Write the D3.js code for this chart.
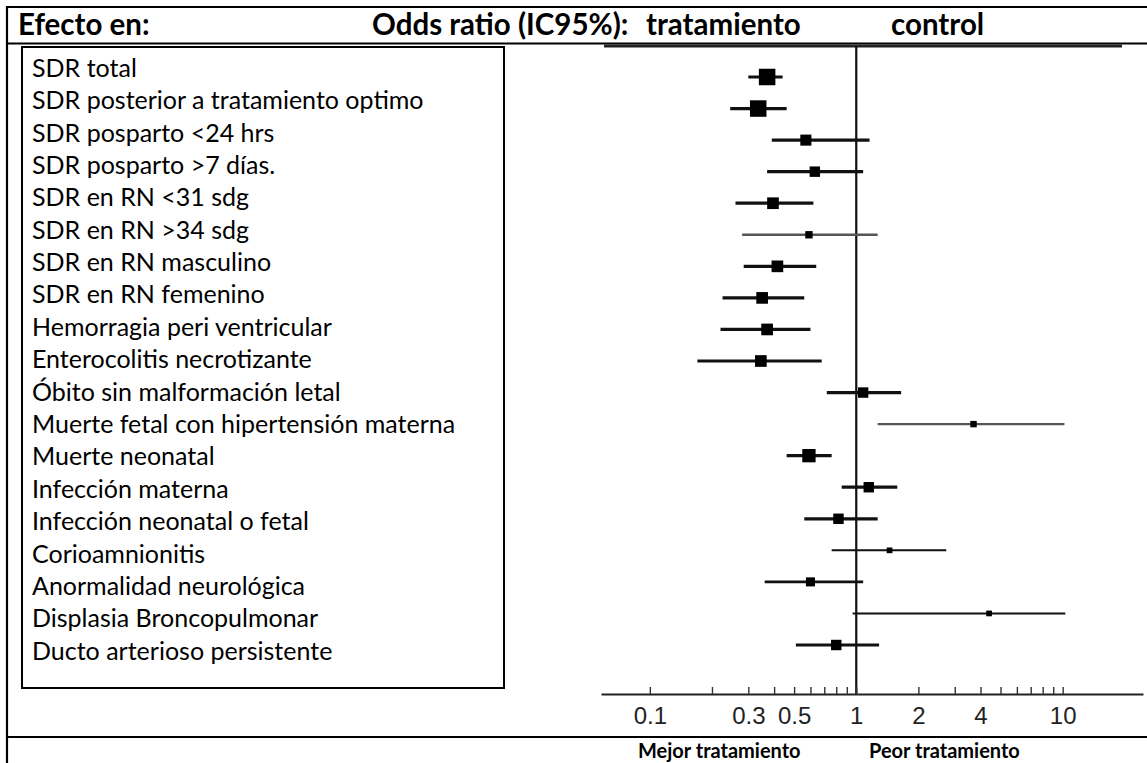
<!DOCTYPE html>
<html lang="es">
<head>
<meta charset="utf-8">
<title>Odds ratio (IC95%)</title>
<script src="https://cdn.jsdelivr.net/npm/d3@7"></script>
<style>
  html, body { margin: 0; padding: 0; background: #fff; }
  svg { display: block; }
  .lbl { font-family: Lato, "Open Sans", sans-serif; font-size: 25px; fill: #000; }
  .hdr { font-family: Lato, "Open Sans", sans-serif; font-weight: 700; font-size: 29.5px; fill: #000; }
  .foot { font-family: Lato, "Open Sans", sans-serif; font-weight: 700; font-size: 20px; fill: #000; }
  .axis text { font-family: "Liberation Sans", Arial, sans-serif; font-size: 24px; fill: #222; }
</style>
</head>
<body>
<svg id="chart" width="1147" height="763"></svg>
<script>
// datos (escala log del odds ratio)
const efectos = [
  'SDR total',
  'SDR posterior a tratamiento optimo',
  'SDR posparto <24 hrs',
  'SDR posparto >7 días.',
  'SDR en RN <31 sdg',
  'SDR en RN >34 sdg',
  'SDR en RN masculino',
  'SDR en RN femenino',
  'Hemorragia peri ventricular',
  'Enterocolitis necrotizante',
  'Óbito sin malformación letal',
  'Muerte fetal con hipertensión materna',
  'Muerte neonatal',
  'Infección materna',
  'Infección neonatal o fetal',
  'Corioamnionitis',
  'Anormalidad neurológica',
  'Displasia Broncopulmonar',
  'Ducto arterioso persistente',
];
const oddsRatio = [0.37, 0.335, 0.57, 0.63, 0.395, 0.59, 0.415, 0.35, 0.37, 0.345, 1.08, 3.7, 0.59, 1.15, 0.82, 1.45, 0.6, 4.4, 0.8];
const icInferior = [0.30, 0.245, 0.39, 0.37, 0.26, 0.28, 0.285, 0.225, 0.22, 0.17, 0.72, 1.27, 0.46, 0.85, 0.56, 0.76, 0.36, 0.96, 0.51];
const icSuperior = [0.44, 0.46, 1.16, 1.08, 0.62, 1.27, 0.64, 0.56, 0.6, 0.68, 1.65, 10.2, 0.76, 1.58, 1.27, 2.73, 1.08, 10.3, 1.29];
const pesos = [10, 10, 4.5, 4, 5, 2, 5, 5, 5, 5, 4, 1.5, 6.5, 4, 4, 1.2, 3, 1.2, 4];

const ticksMenores = [0.1, 0.2, 0.3, 0.4, 0.5, 0.6, 0.7, 0.8, 0.9, 1, 2, 3, 4, 5, 6, 7, 8, 9, 10];
const ticksEtiquetas = [0.1, 0.3, 0.5, 1, 2, 4, 10];

const W = 1147;
const H = 763;
const svg = d3.select('#chart');

// ---- marco de tabla ----
function hline(x1, x2, y, w = 2) {
  svg.append('line').attr('x1', x1).attr('x2', x2).attr('y1', y).attr('y2', y)
    .attr('stroke', '#000').attr('stroke-width', w);
}
hline(6, W, 7, 2.2);
hline(6, W, 43.5, 2.2);
hline(6, W, 737, 2.2);
svg.append('line').attr('x1', 7).attr('x2', 7).attr('y1', 6).attr('y2', H)
  .attr('stroke', '#000').attr('stroke-width', 2.2);

svg.append('text').attr('class', 'hdr').attr('x', 18).attr('y', 35).text('Efecto en:');
svg.append('text').attr('class', 'hdr').attr('x', 372).attr('y', 35).text('Odds ratio (IC95%):');
svg.append('text').attr('class', 'hdr').attr('x', 646).attr('y', 35).text('tratamiento');
svg.append('text').attr('class', 'hdr').attr('x', 891).attr('y', 35).text('control');

svg.append('text').attr('class', 'foot').attr('x', 638).attr('y', 758).text('Mejor tratamiento');
svg.append('text').attr('class', 'foot').attr('x', 869).attr('y', 758).text('Peor tratamiento');

// ---- caja de etiquetas ----
svg.append('rect').attr('x', 22).attr('y', 47).attr('width', 482).attr('height', 641)
  .attr('fill', 'none').attr('stroke', '#000').attr('stroke-width', 2);

const yTexto = d3.scalePoint().domain(efectos).range([68, 651]);
svg.append('g').selectAll('text')
  .data(efectos)
  .join('text')
  .attr('class', 'lbl')
  .attr('x', 32)
  .attr('y', (d) => yTexto(d))
  .attr('dy', '0.35em')
  .text((d) => d);

// ---- forest plot (imagen escaneada) ----
const x = d3.scaleLog().domain([0.058, 24.5]).range([601, 1143]);
const y = d3.scalePoint().domain(efectos).range([77, 645]);
const lado = d3.scaleSqrt().domain([0, 10]).range([0, 16.5]);
const grosor = d3.scaleLinear().domain([1, 4]).range([2, 3.2]).clamp(true);

const plot = svg.append('g').attr('class', 'plot');
const yEje = 694;

plot.append('line').attr('x1', 604).attr('x2', 1122).attr('y1', 46).attr('y2', 46)
  .attr('stroke', '#222').attr('stroke-width', 2.8);

plot.append('line').attr('x1', x(1)).attr('x2', x(1)).attr('y1', 46).attr('y2', yEje)
  .attr('stroke', '#111').attr('stroke-width', 2.2);

const filas = efectos.map((e, i) => ({
  e, or: oddsRatio[i], lo: icInferior[i], hi: icSuperior[i], w: pesos[i],
}));

plot.append('g').selectAll('line')
  .data(filas)
  .join('line')
  .attr('x1', (d) => x(d.lo))
  .attr('x2', (d) => x(d.hi))
  .attr('y1', (d) => y(d.e))
  .attr('y2', (d) => y(d.e))
  .attr('stroke', (d) => (d.w < 2.5 && d.w > 1.3 ? '#555' : '#111'))
  .attr('stroke-width', (d) => grosor(d.w));

plot.append('g').selectAll('rect')
  .data(filas)
  .join('rect')
  .attr('x', (d) => x(d.or) - lado(d.w) / 2)
  .attr('y', (d) => y(d.e) - lado(d.w) / 2)
  .attr('width', (d) => lado(d.w))
  .attr('height', (d) => lado(d.w))
  .attr('fill', '#000');

const eje = d3.axisBottom(x)
  .tickValues(ticksMenores)
  .tickSizeInner(-7)
  .tickSizeOuter(0)
  .tickPadding(13)
  .tickFormat((v) => (ticksEtiquetas.includes(v) ? String(v) : ''));

const gEje = plot.append('g').attr('class', 'axis').attr('transform', `translate(0,${yEje})`).call(eje);
gEje.select('.domain').attr('stroke', '#222').attr('stroke-width', 2);
gEje.selectAll('.tick line').attr('stroke', '#333').attr('stroke-width', 1.4);
gEje.selectAll('.tick text').attr('dy', '0.71em');
</script>
</body>
</html>
